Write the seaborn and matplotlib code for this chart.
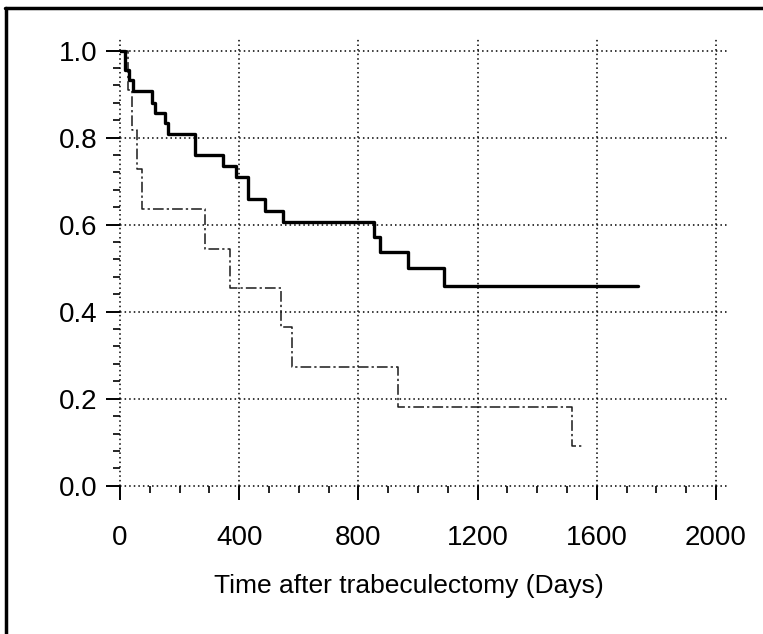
# Kaplan-Meier style survival curves after trabeculectomy
import matplotlib
matplotlib.use("Agg")
import matplotlib.pyplot as plt
from matplotlib.lines import Line2D
from matplotlib.ticker import MultipleLocator, FormatStrFormatter
import pandas as pd
import seaborn as sns

# ---- data ----
solid_days = [0, 17, 31, 45, 106, 117, 151, 162, 252, 347, 388, 428, 487, 546,
              852, 872, 968, 1088, 1739]
solid_surv = [1.0, 0.956, 0.933, 0.907, 0.880, 0.857, 0.833, 0.808, 0.760, 0.736,
              0.710, 0.659, 0.632, 0.605, 0.572, 0.538, 0.500, 0.459, 0.459]

dashed_days = [0, 28, 41, 56, 73, 285, 370, 540, 576, 934, 1518, 1551]
dashed_surv = [1.0, 0.909, 0.818, 0.727, 0.636, 0.545, 0.455, 0.364, 0.273,
               0.182, 0.091, 0.091]

x_ticks = [0, 400, 800, 1200, 1600, 2000]
y_ticks = [0.0, 0.2, 0.4, 0.6, 0.8, 1.0]
x_label = "Time after trabeculectomy (Days)"

df_solid = pd.DataFrame({"days": solid_days, "surv": solid_surv})
df_dashed = pd.DataFrame({"days": dashed_days, "surv": dashed_surv})

# ---- style ----
sns.set_style("white")
plt.rcParams["font.family"] = ["Liberation Sans", "DejaVu Sans"]
plt.rcParams["text.color"] = "black"
plt.rcParams["axes.labelcolor"] = "black"
plt.rcParams["xtick.color"] = "black"
plt.rcParams["ytick.color"] = "black"

fig = plt.figure(figsize=(7.63, 6.34), dpi=100)
ax = fig.add_axes([0.1573, 0.2339, 0.7987, 0.7068])

sns.lineplot(data=df_dashed, x="days", y="surv", ax=ax, estimator=None, sort=False,
             drawstyle="steps-post", color="#1a1a1a", linewidth=1.1,
             linestyle=(0, (7, 2, 1.5, 2)), zorder=3)
sns.lineplot(data=df_solid, x="days", y="surv", ax=ax, estimator=None, sort=False,
             drawstyle="steps-post", color="black", linewidth=2.4, zorder=4)

ax.set_xlim(0, 2045)
ax.set_ylim(0, 1.03)
ax.set_xticks(x_ticks)
ax.set_yticks(y_ticks)
ax.xaxis.set_minor_locator(MultipleLocator(100))
ax.yaxis.set_minor_locator(MultipleLocator(0.04))
ax.yaxis.set_major_formatter(FormatStrFormatter("%.1f"))

ax.grid(True, which="major", color="black", linestyle=(0, (1, 2)), linewidth=1.1)
ax.grid(False, which="minor")
ax.set_axisbelow(True)
for gl in ax.get_xgridlines() + ax.get_ygridlines():
    gl.set_clip_on(False)
for s in ax.spines.values():
    s.set_visible(False)

ax.tick_params(axis="both", which="both", bottom=True, left=True, top=False, right=False)
ax.tick_params(axis="both", which="major", direction="out", length=10, width=1.4,
               color="black", labelsize=20, labelcolor="black")
ax.tick_params(axis="both", which="minor", direction="out", length=5, width=1.2,
               color="black")
ax.tick_params(axis="x", which="major", pad=18)
ax.tick_params(axis="y", which="major", pad=6)

ax.set_xlabel(x_label, fontsize=19, color="black")
ax.set_ylabel("")
ax.xaxis.set_label_coords(0.474, -0.198)
ax.xaxis.label.set_va("top")

# frame lines around the figure (top and left)
fig.add_artist(Line2D([0.006, 1.0], [0.988, 0.988], color="black", linewidth=2.5,
                      transform=fig.transFigure))
fig.add_artist(Line2D([0.008, 0.008], [0.0, 0.988], color="black", linewidth=2.5,
                      transform=fig.transFigure))

fig.savefig("out.png", dpi=100)
